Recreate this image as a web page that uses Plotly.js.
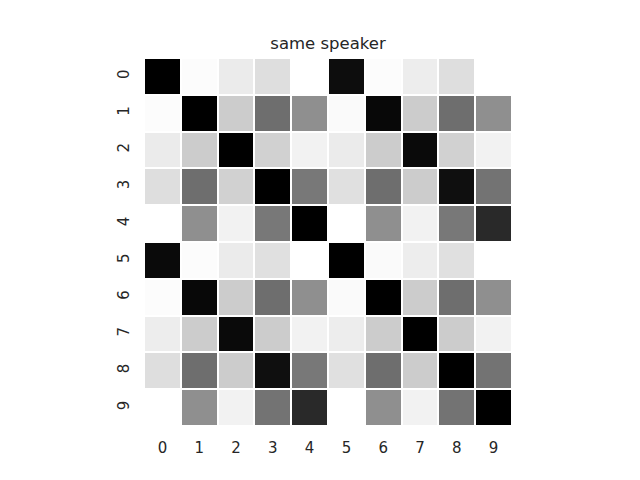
<!DOCTYPE html>
<html>
<head>
<meta charset="utf-8">
<script src="https://cdn.plot.ly/plotly-3.0.1.min.js"></script>
<style>html,body{margin:0;padding:0;background:#fff;}#chart{width:640px;height:480px;}</style>
</head>
<body>
<div id="chart"></div>
<script>
// tick labels
const labels = ['0','1','2','3','4','5','6','7','8','9'];
// similarity values (0 = white, 1 = black)
const row0 = [1.00, 0.01, 0.08, 0.13, 0.00, 0.95, 0.01, 0.07, 0.13, 0.00];
const row1 = [0.01, 1.00, 0.20, 0.57, 0.44, 0.02, 0.97, 0.20, 0.57, 0.44];
const row2 = [0.08, 0.20, 1.00, 0.18, 0.05, 0.08, 0.20, 0.96, 0.18, 0.05];
const row3 = [0.13, 0.57, 0.18, 1.00, 0.53, 0.12, 0.57, 0.20, 0.94, 0.55];
const row4 = [0.00, 0.44, 0.05, 0.53, 1.00, 0.00, 0.44, 0.05, 0.53, 0.84];
const row5 = [0.96, 0.01, 0.08, 0.12, 0.00, 1.00, 0.02, 0.07, 0.12, 0.00];
const row6 = [0.01, 0.97, 0.20, 0.57, 0.44, 0.02, 1.00, 0.20, 0.57, 0.44];
const row7 = [0.07, 0.20, 0.96, 0.20, 0.05, 0.07, 0.20, 1.00, 0.20, 0.05];
const row8 = [0.13, 0.57, 0.20, 0.94, 0.53, 0.12, 0.57, 0.20, 1.00, 0.55];
const row9 = [0.00, 0.44, 0.05, 0.55, 0.84, 0.00, 0.44, 0.05, 0.55, 1.00];
const z = [row0, row1, row2, row3, row4, row5, row6, row7, row8, row9];

const trace = {
  type: 'heatmap',
  z: z,
  x: labels,
  y: labels,
  colorscale: [[0, '#ffffff'], [1, '#000000']],
  zmin: 0, zmax: 1,
  showscale: false,
  xgap: 2, ygap: 2,
  hoverinfo: 'skip'
};

const layout = {
  width: 640, height: 480,
  paper_bgcolor: '#ffffff', plot_bgcolor: '#ffffff',
  margin: {l: 144, r: 128, t: 58, b: 54},
  font: {family: 'DejaVu Sans', size: 15, color: '#262626'},
  title: {text: 'same speaker', x: 0.5125, xanchor: 'center', y: 0.91, yanchor: 'middle', font: {family: 'DejaVu Sans', size: 16.5, color: '#262626'}},
  xaxis: {type: 'category', showgrid: false, zeroline: false, showline: false,
          ticks: 'outside', ticklen: 8, tickcolor: '#ffffff', tickfont: {size: 15}},
  yaxis: {type: 'category', autorange: 'reversed', showgrid: false, zeroline: false, showline: false,
          ticks: 'outside', ticklen: 8, tickcolor: '#ffffff', tickangle: -90, tickfont: {size: 15}}
};

Plotly.newPlot('chart', [trace], layout, {displayModeBar: false, staticPlot: true});
</script>
</body>
</html>
